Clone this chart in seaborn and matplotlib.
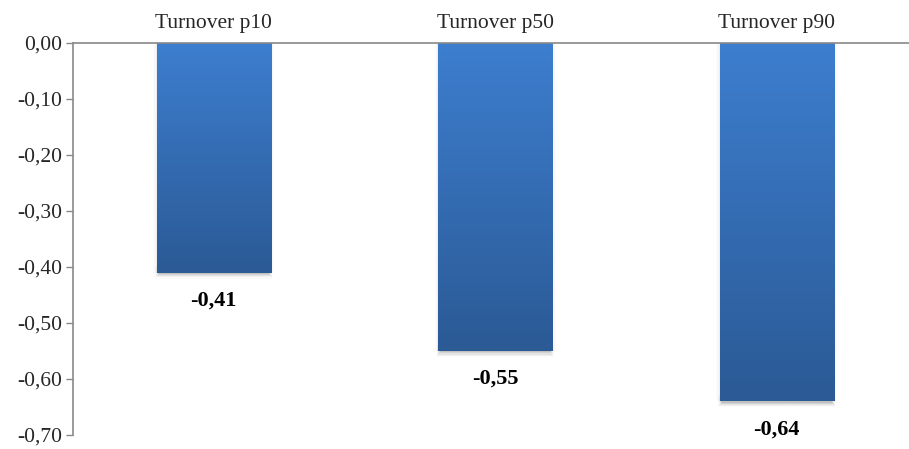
import matplotlib
matplotlib.use("Agg")
import matplotlib.pyplot as plt
import numpy as np
import pandas as pd
import seaborn as sns
from matplotlib.colors import LinearSegmentedColormap
from matplotlib.patches import Rectangle

categories = ["Turnover p10", "Turnover p50", "Turnover p90"]
values = [-0.41, -0.55, -0.64]
yticks = [0.0, -0.1, -0.2, -0.3, -0.4, -0.5, -0.6, -0.7]

sns.set_style("white")
plt.rcParams["font.family"] = ["Liberation Serif", "DejaVu Serif"]

df = pd.DataFrame({"category": categories, "value": values})

fig = plt.figure(figsize=(9.09, 4.49), dpi=100)
W, H = 909, 449
left, top, bottom = 73, 43, 435
ax = fig.add_axes([left / W, 1 - bottom / H, (W - left) / W, (bottom - top) / H])

sns.barplot(data=df, x="category", y="value", ax=ax, width=0.405,
            color="#3a78c8", saturation=1, edgecolor="none")

step = 281.5
ax.set_xlim(-0.5, -0.5 + (W - left) / step)
ax.set_ylim(-0.70, 0.0)

# vertical gradient fill and soft drop shadow for each bar
cmap = LinearSegmentedColormap.from_list("bar", ["#2b5a95", "#3d7ecf"])
grad = np.linspace(0, 1, 256).reshape(-1, 1)
for patch in list(ax.patches):
    x0, y0 = patch.get_x(), patch.get_y()
    w, h = patch.get_width(), patch.get_height()
    ylo, yhi = min(y0, y0 + h), max(y0, y0 + h)
    # faint halo along the sides
    for i, a in enumerate([0.035, 0.02, 0.01]):
        dx = 0.004 * (i + 1)
        ax.add_patch(Rectangle((x0 - dx, ylo), w + 2 * dx, yhi - ylo,
                               facecolor="black", alpha=a, edgecolor="none",
                               zorder=1.4))
    # darker shadow under the bar end
    for i, a in enumerate([0.09, 0.07, 0.05, 0.035, 0.02]):
        d = 0.002 + i * 0.0022
        ax.add_patch(Rectangle((x0 + 0.006 - 0.003 * i, ylo - d),
                               w - 0.012 + 0.006 * i, 0.02,
                               facecolor="black", alpha=a, edgecolor="none",
                               zorder=1.5))
    im = ax.imshow(grad, extent=[x0, x0 + w, ylo, yhi], origin="lower",
                   cmap=cmap, aspect="auto", zorder=2)
    im.set_clip_path(patch)
    patch.set_zorder(2)

ax.set_xlim(-0.5, -0.5 + (W - left) / step)
ax.set_ylim(-0.70, 0.0)

for i, v in enumerate(values):
    ax.annotate(f"{v:.2f}".replace(".", ","), (i, v), xytext=(0, -20),
                textcoords="offset points", ha="center", va="center",
                fontsize=16, fontweight="bold", color="black")

ax.set_xlabel("")
ax.set_ylabel("")
ax.xaxis.tick_top()
ax.set_xticks(range(len(categories)))
ax.set_xticklabels(categories, fontsize=15.5)
ax.tick_params(axis="x", length=0, pad=7)
ax.set_yticks(yticks)
ax.set_yticklabels([f"{t:.2f}".replace(".", ",") for t in yticks], fontsize=15.5)
ax.tick_params(axis="y", length=5, width=1, color="#898989", pad=3, left=True)

for side in ["right", "bottom"]:
    ax.spines[side].set_visible(False)
for side in ["left", "top"]:
    ax.spines[side].set_color("#898989")
    ax.spines[side].set_linewidth(1.2)

fig.savefig("out.png", dpi=100)
